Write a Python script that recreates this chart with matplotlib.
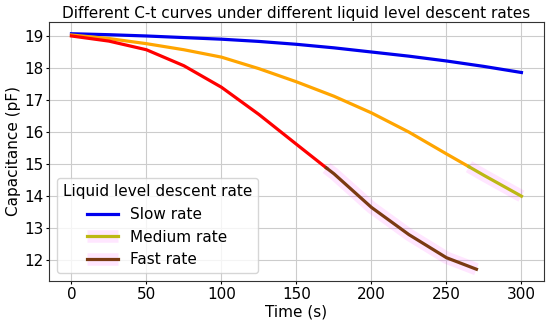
import matplotlib
matplotlib.use("Agg")
import matplotlib.pyplot as plt
from matplotlib.legend_handler import HandlerTuple

# values
t_slow = [0, 25, 50, 75, 100, 125, 150, 175, 200, 225, 250, 275, 300]
c_slow = [19.07, 19.04, 19.0, 18.95, 18.9, 18.83, 18.74, 18.63, 18.5, 18.37, 18.22, 18.05, 17.86]

t_medium = [0, 25, 50, 75, 100, 125, 150, 175, 200, 225, 250, 265, 275, 300]
c_medium = [19.03, 18.92, 18.76, 18.57, 18.34, 17.98, 17.57, 17.12, 16.6, 16.0, 15.32, 14.92, 14.65, 14.0]

t_fast = [0, 25, 50, 75, 100, 125, 150, 170, 175, 200, 225, 250, 270]
c_fast = [19.0, 18.84, 18.57, 18.07, 17.4, 16.55, 15.62, 14.88, 14.7, 13.65, 12.8, 12.08, 11.72]

split_medium = 265  # colour changes here
split_fast = 170

plt.rcParams.update({
    "font.family": "DejaVu Sans",
    "font.size": 11,
    "xtick.major.size": 2,
    "ytick.major.size": 2,
    "xtick.major.pad": 2,
    "ytick.major.pad": 2,
    "axes.labelpad": 2,
    "axes.titlepad": 3,
})

fig, ax = plt.subplots(figsize=(5.5, 3.23), dpi=100)
fig.subplots_adjust(left=0.089, right=0.989, bottom=0.13, top=0.932)

lw = 2.3
halo_kw = dict(color="#ff33ff", alpha=0.12, linewidth=9, solid_capstyle="butt")


def split(ts, cs, at):
    head = [(t, c) for t, c in zip(ts, cs) if t <= at]
    tail = [(t, c) for t, c in zip(ts, cs) if t >= at]
    return list(zip(*head)), list(zip(*tail))


(slow_line,) = ax.plot(t_slow, c_slow, color="#0000ee", linewidth=lw)

(mh_t, mh_c), (mt_t, mt_c) = split(t_medium, c_medium, split_medium)
ax.plot(mh_t, mh_c, color="#ffa500", linewidth=lw)
(med_halo,) = ax.plot(mt_t, mt_c, **halo_kw)
(med_line,) = ax.plot(mt_t, mt_c, color="#bcb814", linewidth=lw)

(fh_t, fh_c), (ft_t, ft_c) = split(t_fast, c_fast, split_fast)
ax.plot(fh_t, fh_c, color="#ff0000", linewidth=lw)
(fast_halo,) = ax.plot(ft_t, ft_c, **halo_kw)
(fast_line,) = ax.plot(ft_t, ft_c, color="#7a3a12", linewidth=lw)

ax.set_title("Different C-t curves under different liquid level descent rates", fontsize=11)
ax.set_xlabel("Time (s)")
ax.set_ylabel("Capacitance (pF)")
ax.set_xticks([0, 50, 100, 150, 200, 250, 300])
ax.set_yticks([12, 13, 14, 15, 16, 17, 18, 19])
ax.grid(True, color="#cccccc", linewidth=0.8)
for s in ax.spines.values():
    s.set_color("#333333")

ax.legend([slow_line, (med_halo, med_line), (fast_halo, fast_line)],
          ["Slow rate", "Medium rate", "Fast rate"],
          handler_map={tuple: HandlerTuple(ndivide=1, pad=0)},
          title="Liquid level descent rate", loc="lower left",
          fontsize=11, title_fontsize=11)

fig.savefig("out.png", dpi=100)
